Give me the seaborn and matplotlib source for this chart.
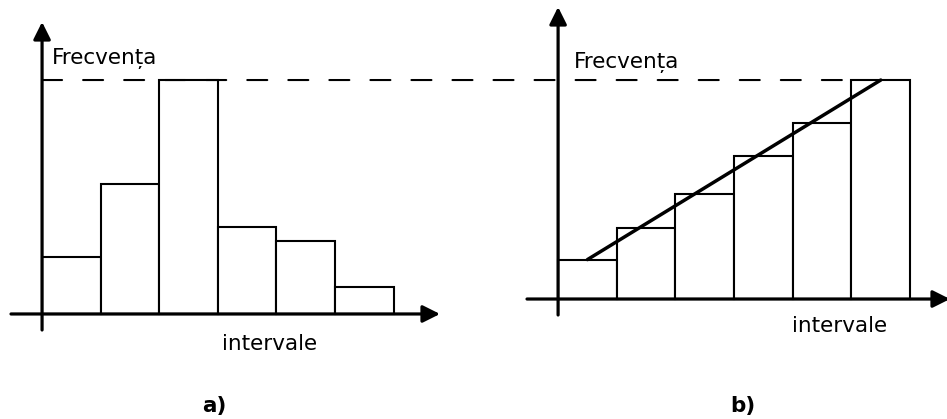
import numpy as np
import matplotlib
matplotlib.use('Agg')
import matplotlib.pyplot as plt
from matplotlib.patches import ConnectionPatch
import seaborn as sb

# histogram a) and cumulative-like histogram b)
intervals = ['I1', 'I2', 'I3', 'I4', 'I5', 'I6']
freq_a = [4.9, 11.1, 20.0, 7.4, 6.2, 2.3]
freq_b = [3.6, 6.5, 9.6, 13.1, 16.1, 20.0]
y_label = 'Frecvența'
x_label = 'intervale'
panel_labels = ['a)', 'b)']

W, H = 947, 419


def px_box(left, right, top, bottom):
    return [left / W, 1 - bottom / H, (right - left) / W, (bottom - top) / H]


def draw_axes(ax):
    x0, x1 = ax.get_xlim()
    y0, y1 = ax.get_ylim()
    arrow = dict(arrowstyle='-|>', color='black', lw=2.3, mutation_scale=26,
                 shrinkA=0, shrinkB=0)
    ax.annotate('', xy=(x1, 0), xytext=(x0, 0), arrowprops=arrow, annotation_clip=False)
    ax.annotate('', xy=(-0.5, y1), xytext=(-0.5, y0), arrowprops=arrow, annotation_clip=False)
    ax.axis('off')


def bars(ax, values):
    sb.barplot(x=intervals, y=values, ax=ax, width=1, color='white',
               edgecolor='black', linewidth=1.5, saturation=1)


sb.set_style('white')
plt.rcParams['font.family'] = ['DejaVu Sans']
plt.rcParams['text.color'] = 'black'

fig = plt.figure(figsize=(9.47, 4.19), dpi=100)

ax_a = fig.add_axes(px_box(11, 440, 22, 330))
bars(ax_a, freq_a)
ax_a.set_xlim(-1.03, 6.29)
ax_a.set_ylim(-1.37, 24.96)
draw_axes(ax_a)

ax_b = fig.add_axes(px_box(527, 950, 7, 315))
bars(ax_b, freq_b)
sb.lineplot(x=[0, len(freq_b) - 1], y=[freq_b[0], freq_b[-1]], ax=ax_b,
            color='black', linewidth=2.5)
ax_b.set_xlim(-1.03, 6.18)
ax_b.set_ylim(-1.46, 26.67)
draw_axes(ax_b)

# dashed line at the highest frequency, across both panels
con = ConnectionPatch(xyA=(-0.5, max(freq_a)), coordsA=ax_a.transData,
                      xyB=(len(freq_b) - 1.5, max(freq_b)), coordsB=ax_b.transData,
                      color='black', linewidth=1.5, linestyle=(0, (9.6, 10.1)))
fig.add_artist(con)

fs = 15.5
fig.text(52 / W, 1 - 64 / H, y_label, fontsize=fs, va='baseline', color='black')
fig.text(574 / W, 1 - 68 / H, y_label, fontsize=fs, va='baseline', color='black')
fig.text(222 / W, 1 - 350 / H, x_label, fontsize=fs, va='baseline', color='black')
fig.text(792 / W, 1 - 332 / H, x_label, fontsize=fs, va='baseline', color='black')
fig.text(214 / W, 1 - 412 / H, panel_labels[0], fontsize=fs, fontweight='bold',
         ha='center', va='baseline', color='black')
fig.text(743 / W, 1 - 412 / H, panel_labels[1], fontsize=fs, fontweight='bold',
         ha='center', va='baseline', color='black')

fig.savefig('out.png', dpi=100)
